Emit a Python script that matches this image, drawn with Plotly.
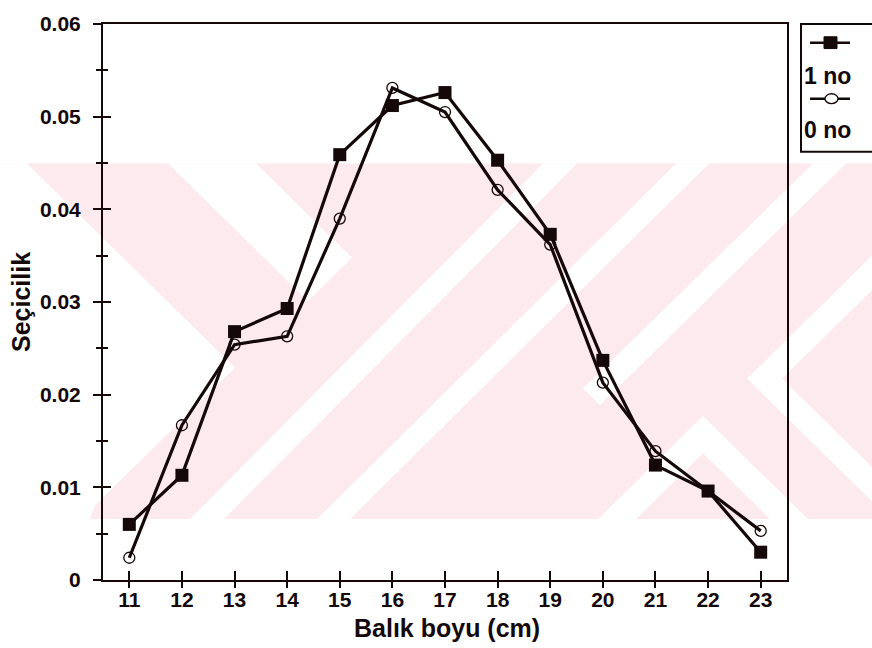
import plotly.graph_objects as go

# ---- data ----
boy = [11, 12, 13, 14, 15, 16, 17, 18, 19, 20, 21, 22, 23]
no1 = [0.0060, 0.0113, 0.0268, 0.0293, 0.0459, 0.0512, 0.0526, 0.0453, 0.0373, 0.0237, 0.0124, 0.0096, 0.0030]
no0 = [0.0024, 0.0167, 0.0254, 0.0263, 0.0390, 0.0531, 0.0505, 0.0421, 0.0362, 0.0213, 0.0139, 0.0096, 0.0053]
series_names = ["1 no", "0 no"]
y_ticks = [0, 0.01, 0.02, 0.03, 0.04, 0.05, 0.06]
y_ticktext = ["0", "0.01", "0.02", "0.03", "0.04", "0.05", "0.06"]
y_minor = [0.005, 0.015, 0.025, 0.035, 0.045, 0.055]
x_title = "Balık boyu (cm)"
y_title = "Seçicilik"

# ---- layout geometry (pixels) ----
W, H = 872, 648
ML, MR, MT, MB = 103, 85, 14, 68
PW, PH = W - ML - MR, H - MT - MB
INK = "#140808"
FONT = "Liberation Sans, Arial, sans-serif"


def px(x):
    return (x - ML) / PW


def py(y):
    return (H - MB - y) / PH


fig = go.Figure()

fig.add_trace(go.Scatter(
    x=boy, y=no1, mode="lines+markers", name=series_names[0],
    line=dict(color=INK, width=3.2),
    marker=dict(symbol="square", size=13, color=INK),
    showlegend=False, cliponaxis=False))
fig.add_trace(go.Scatter(
    x=boy, y=no0, mode="lines+markers", name=series_names[1],
    line=dict(color=INK, width=3.2),
    marker=dict(symbol="circle-open", size=11, color=INK, line=dict(width=1.3, color=INK)),
    showlegend=False, cliponaxis=False))
# dummy trace to materialise the overlay axes (inner tick halves)
fig.add_trace(go.Scatter(x=[boy[0]], y=[0], xaxis="x2", yaxis="y2", mode="markers",
                         marker=dict(opacity=0), showlegend=False, hoverinfo="skip"))

# ---- background watermark (pink band with white diagonal stripes) ----
PINK = "#fdeaef"
shapes = []


def poly(points, color):
    d = "M " + " L ".join(f"{px(a):.5f},{py(b):.5f}" for a, b in points) + " Z"
    return dict(type="path", path=d, xref="paper", yref="paper", fillcolor=color,
                line=dict(width=0), layer="below")


band_top, band_bot = 156, 518
shapes.append(poly([(0, band_top), (W, band_top), (W, band_bot), (0, band_bot)], PINK))
whites = [
    [(0, band_top), (27, band_top), (235, 364), (95, 504), (90, band_bot), (0, band_bot)],
    [(168, band_top), (256, band_top), (352, 252), (308, 296)],
    [(543, band_top), (577, band_top), (224, band_bot), (190, band_bot)],
    [(676, band_top), (709, band_top), (350, band_bot), (317, band_bot)],
    [(813, band_top), (846, band_top), (600, 402), (583, 385)],
    [(598, band_bot), (703, 413), (808, band_bot), (770, band_bot), (703, 451), (636, band_bot)],
    [(872, 250), (872, 285), (782, 375), (872, 465), (872, 500), (747, 375)],
]
for w in whites:
    shapes.append(poly(w, "white"))

# ---- legend box (drawn by hand) ----
shapes.append(dict(type="rect", xref="paper", yref="paper", x0=px(801), x1=px(885),
                   y0=py(144), y1=py(14), line=dict(color=INK, width=2), fillcolor="white"))
shapes.append(dict(type="line", xref="paper", yref="paper", x0=px(810), x1=px(850),
                   y0=py(33), y1=py(33), line=dict(color=INK, width=2.5)))
shapes.append(dict(type="rect", xref="paper", yref="paper", x0=px(824), x1=px(837),
                   y0=py(39), y1=py(27), line=dict(color=INK, width=1), fillcolor=INK))
shapes.append(dict(type="line", xref="paper", yref="paper", x0=px(810), x1=px(850),
                   y0=py(90), y1=py(90), line=dict(color=INK, width=2.5)))
shapes.append(dict(type="circle", xref="paper", yref="paper", x0=px(825), x1=px(838),
                   y0=py(95), y1=py(85), line=dict(color=INK, width=1.3), fillcolor="white"))

annotations = [
    dict(text="<b>" + series_names[0] + "</b>", xref="paper", yref="paper", x=px(802), y=py(67),
         xanchor="left", yanchor="middle", showarrow=False, font=dict(size=23, color=INK, family=FONT)),
    dict(text="<b>" + series_names[1] + "</b>", xref="paper", yref="paper", x=px(802), y=py(122),
         xanchor="left", yanchor="middle", showarrow=False, font=dict(size=23, color=INK, family=FONT)),
    dict(text="<b>" + x_title + "</b>", xref="paper", yref="paper", x=px(447), y=py(629),
         xanchor="center", yanchor="middle", showarrow=False, font=dict(size=25, color=INK, family=FONT)),
    dict(text="<b>" + y_title + "</b>", xref="paper", yref="paper", x=px(21), y=py(297), textangle=-90,
         xanchor="center", yanchor="middle", showarrow=False, font=dict(size=25, color=INK, family=FONT)),
]

common = dict(showgrid=False, zeroline=False, tickcolor=INK, tickwidth=2)
tickfont = dict(size=21, color=INK, family=FONT, weight="bold")
fig.update_layout(
    width=W, height=H,
    margin=dict(l=ML, r=MR, t=MT, b=MB),
    paper_bgcolor="white", plot_bgcolor="rgba(0,0,0,0)",
    font=dict(family=FONT, color=INK),
    xaxis=dict(range=[10.5, 23.5], tickmode="array", tickvals=boy, ticks="outside", ticklen=6,
               showline=True, linecolor=INK, linewidth=2, mirror=True,
               tickfont=tickfont, ticklabelstandoff=-6, **common),
    yaxis=dict(range=[0, 0.06], tickmode="array", tickvals=y_ticks, ticktext=y_ticktext,
               ticks="outside", ticklen=8, showline=True, linecolor=INK, linewidth=2, mirror=True,
               tickfont=tickfont, ticklabelstandoff=8,
               minor=dict(tickmode="array", tickvals=y_minor, ticks="outside", ticklen=5,
                          tickwidth=2, tickcolor=INK),
               **common),
    xaxis2=dict(range=[10.5, 23.5], overlaying="x", anchor="y2", side="bottom",
                tickmode="array", tickvals=boy, ticks="inside", ticklen=9,
                showticklabels=False, showline=False, **common),
    yaxis2=dict(range=[0, 0.06], overlaying="y", anchor="x2", side="left",
                tickmode="array", tickvals=y_ticks, ticks="inside", ticklen=8,
                showticklabels=False, showline=False,
                minor=dict(tickmode="array", tickvals=y_minor, ticks="inside", ticklen=5,
                           tickwidth=2, tickcolor=INK),
                **common),
    shapes=shapes, annotations=annotations,
)

fig.write_html("out.html")
